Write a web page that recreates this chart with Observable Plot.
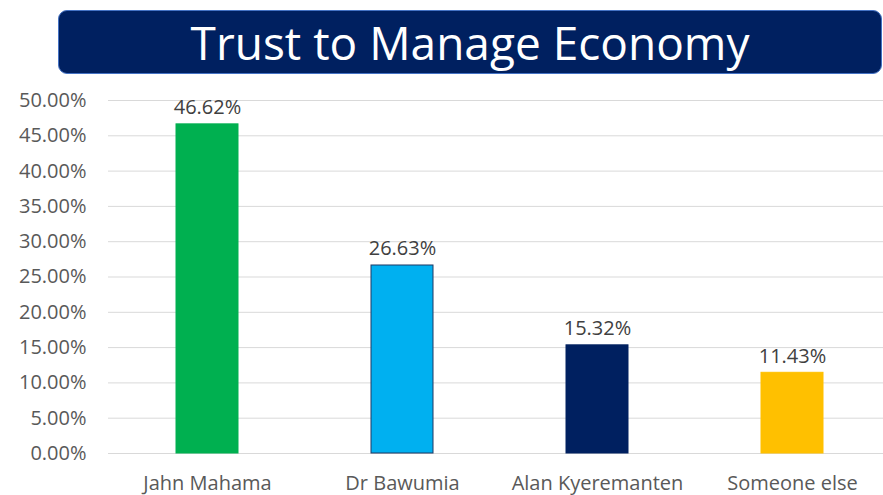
<!DOCTYPE html>
<html>
<head>
<meta charset="utf-8">
<script src="https://cdn.jsdelivr.net/npm/d3@7"></script>
<script src="https://cdn.jsdelivr.net/npm/@observablehq/plot@0.6"></script>
<style>
  html, body { margin: 0; padding: 0; background: #fff; width: 883px; height: 495px; overflow: hidden; }
  #title {
    position: relative; margin: 10px 0 0 58px; width: 822px; height: 62px;
    background: #002060; border: 1px solid #4472c4; border-radius: 9px;
    color: #fff; font-family: "Open Sans", sans-serif; font-size: 46px;
    display: flex; align-items: center; justify-content: center; line-height: 1;
  }
  #chart { margin-top: 6px; }
  #chart svg { overflow: visible; }
</style>
</head>
<body>
<div id="title">Trust to Manage Economy</div>
<div id="chart"></div>
<script>
const categories = ["Jahn Mahama", "Dr Bawumia", "Alan Kyeremanten", "Someone else"];
const values = [0.4662, 0.2663, 0.1532, 0.1143];
const colors = ["#00B050", "#00B0F0", "#002060", "#FFC000"];
const strokes = ["#00B050", "#1F3864", "#002060", "#FFC000"];
const yTicks = [0, 0.05, 0.10, 0.15, 0.20, 0.25, 0.30, 0.35, 0.40, 0.45, 0.50];

const data = categories.map((c, i) => ({category: c, value: values[i], fill: colors[i], stroke: strokes[i]}));
const pct = d3.format(".2%");

const chart = Plot.plot({
  width: 883,
  height: 415,
  marginLeft: 108,
  marginRight: -7,
  marginTop: 20,
  marginBottom: 42,
  style: {fontFamily: "Open Sans, sans-serif", fontSize: "20px", color: "#595959", background: "transparent"},
  x: {domain: categories, paddingInner: 0.683, paddingOuter: 0.3415, label: null},
  y: {domain: [0, 0.5], label: null},
  marks: [
    Plot.ruleY(yTicks, {stroke: "#d9d9d9", strokeWidth: 1}),
    Plot.axisY(yTicks, {tickSize: 0, tickPadding: 22, tickFormat: pct, label: null, fill: "#595959", fontSize: 20}),
    Plot.axisX({tickSize: 0, tickPadding: 22, label: null, fill: "#595959", fontSize: 20}),
    Plot.barY(data, {x: "category", y: "value", fill: "fill", stroke: "stroke", strokeWidth: 1}),
    Plot.text(data, {x: "category", y: "value", text: d => pct(d.value), dy: -10, lineAnchor: "bottom", fill: "#404040", fontSize: 20})
  ]
});
document.getElementById("chart").appendChild(chart);
</script>
</body>
</html>
